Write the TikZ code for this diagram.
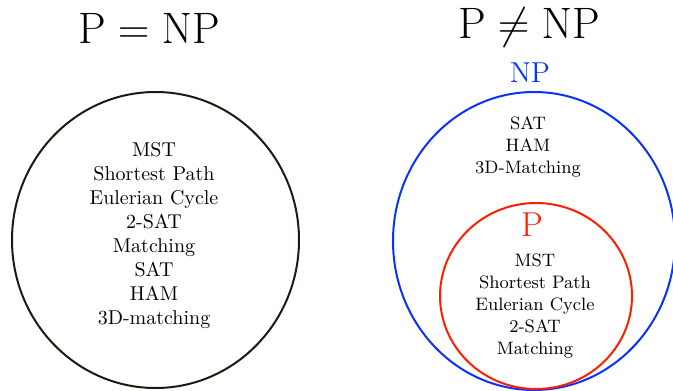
\documentclass[tikz,border=0pt]{standalone}
\usepackage{fix-cm}
\usepackage{amsmath}
\definecolor{npblue}{RGB}{10,50,255}
\definecolor{pred}{RGB}{255,30,0}
\definecolor{darkline}{RGB}{30,26,16}
\begin{document}
\begin{tikzpicture}[x=0.5pt,y=-0.5pt,line join=round,line cap=round,
	set/.style={line width=1pt},
	heading/.style={inner sep=0pt,font=\fontsize{22}{27}\selectfont},
	items/.style={align=center,inner sep=0pt,font=\normalsize},
	smallitems/.style={align=center,inner sep=0pt,font=\small}]
	\useasboundingbox (0,0) rectangle (673,390);
	\clip (0,0) rectangle (673,390);
	% left: P = NP
	\node[heading] (eqtitle) at (149,28) {$\mathrm{P}=\mathrm{NP}$};
	\draw[set,darkline] (155.5,240) ellipse [x radius=143.5,y radius=148];
	\node[items] (all) at (154,236) {MST\\Shortest Path\\Eulerian Cycle\\2-SAT\\Matching\\SAT\\HAM\\3D-matching};
	% right: P != NP
	\node[heading] (neqtitle) at (529,28) {$\mathrm{P}\neq\mathrm{NP}$};
	\draw[set,npblue] (534,241) ellipse [x radius=141,y radius=149];
	\node[npblue,font=\Large] (np) at (530,73) {NP};
	\node[smallitems] (hard) at (528,147) {SAT\\HAM\\3D-Matching};
	\draw[set,pred] (536,296) ellipse [x radius=96,y radius=93];
	\node[pred,font=\LARGE] (p) at (532,225) {P};
	\node[smallitems] (easy) at (535,306) {MST\\Shortest Path\\Eulerian Cycle\\2-SAT\\Matching};
\end{tikzpicture}
\end{document}
